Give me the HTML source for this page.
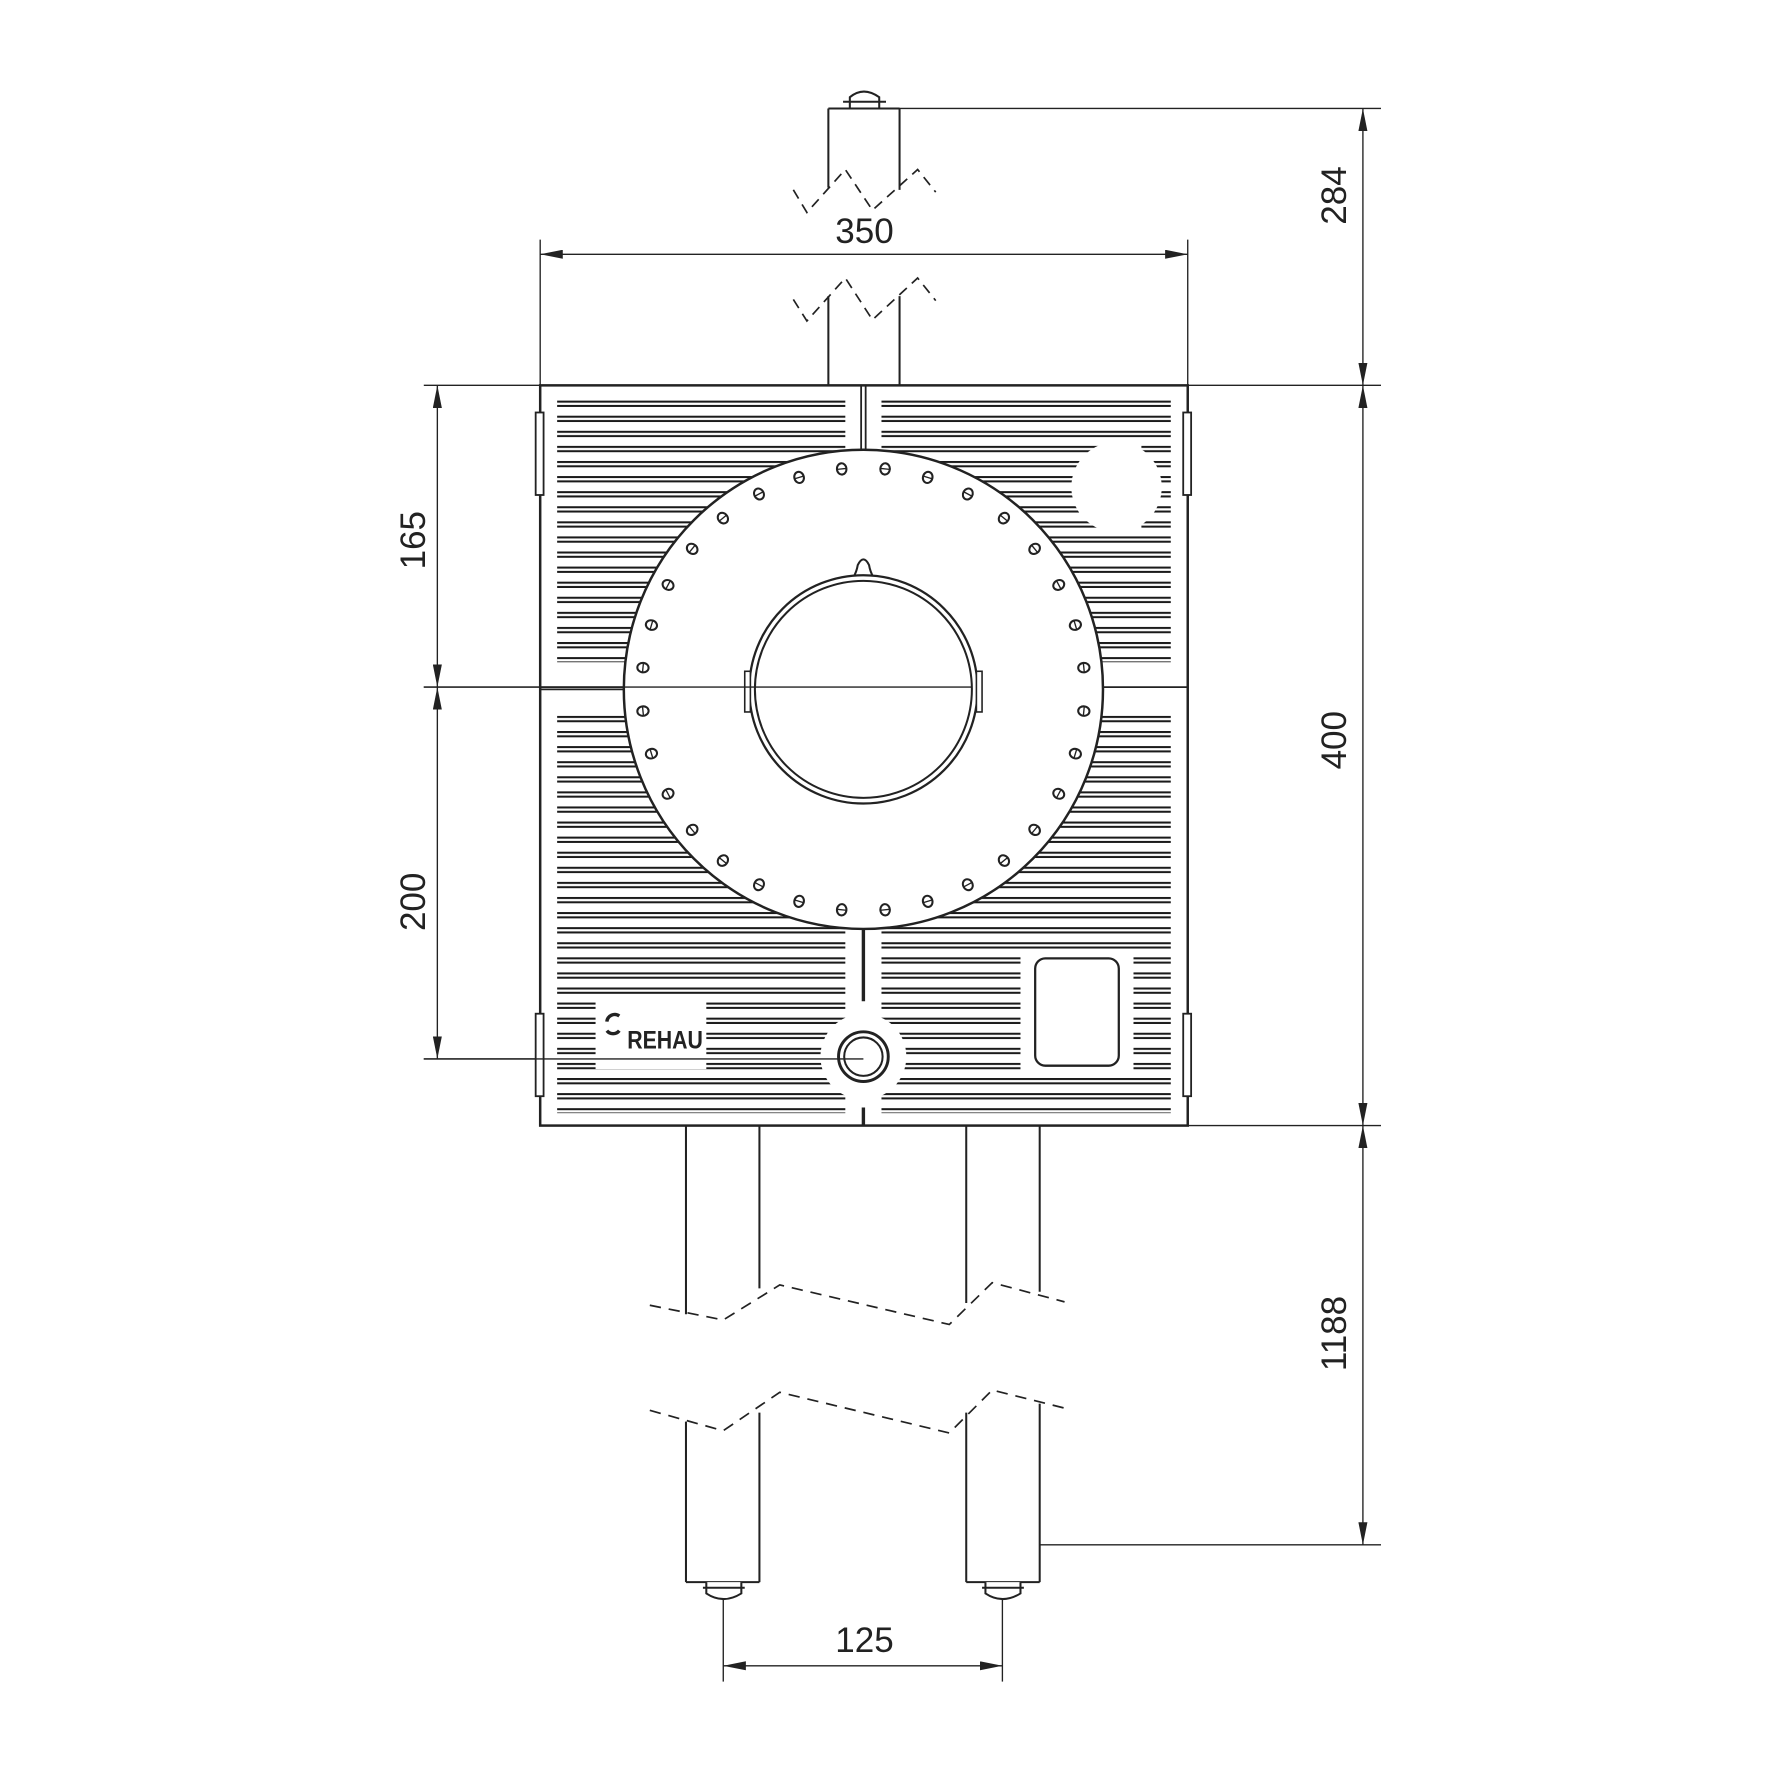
<!DOCTYPE html>
<html><head><meta charset="utf-8"><style>html,body{margin:0;padding:0;background:#fff}svg{display:block}</style></head>
<body>
<svg width="1772" height="1772" viewBox="0 0 1568 1568" xmlns="http://www.w3.org/2000/svg" font-family="Liberation Sans, sans-serif">
<defs>
<pattern id="pa" patternUnits="userSpaceOnUse" x="0" y="354.5" width="2000" height="13.35">
<rect x="0" y="0" width="2000" height="5.6" fill="#1a1a1a"/><rect x="0" y="1.8" width="2000" height="2" fill="#fff"/>
</pattern>
<pattern id="pb" patternUnits="userSpaceOnUse" x="0" y="633.5" width="2000" height="13.35">
<rect x="0" y="0" width="2000" height="5.6" fill="#1a1a1a"/><rect x="0" y="1.8" width="2000" height="2" fill="#fff"/>
</pattern>
<g id="h"><ellipse cx="764" cy="414" rx="4.2" ry="5" fill="#fff" stroke="#222" stroke-width="1.8"/><line x1="760" y1="414" x2="768" y2="414" stroke="#222" stroke-width="1.2"/></g>
<marker id="ar" viewBox="0 0 20 8" refX="20" refY="4" markerWidth="20" markerHeight="8" markerUnits="userSpaceOnUse" orient="auto-start-reverse"><path d="M0,0 L20,4 L0,8 Z" fill="#222"/></marker>
</defs>
<g stroke="#222" fill="none" stroke-width="1.2">
<line x1="790" y1="96" x2="1222" y2="96"/>
<line x1="1051" y1="341" x2="1222" y2="341"/>
<line x1="1051" y1="996" x2="1222" y2="996"/>
<line x1="920" y1="1367" x2="1222" y2="1367"/>
<line x1="478" y1="212" x2="478" y2="341"/>
<line x1="1051" y1="212" x2="1051" y2="341"/>
<line x1="375" y1="341" x2="478" y2="341"/>
<line x1="375" y1="608" x2="478" y2="608"/>
<line x1="375" y1="937" x2="478" y2="937"/>
<line x1="640" y1="1415" x2="640" y2="1488"/>
<line x1="887" y1="1415" x2="887" y2="1488"/>
<line x1="478" y1="225" x2="1051" y2="225" marker-start="url(#ar)" marker-end="url(#ar)"/>
<line x1="1206" y1="96" x2="1206" y2="341" marker-start="url(#ar)" marker-end="url(#ar)"/>
<line x1="1206" y1="341" x2="1206" y2="996" marker-start="url(#ar)" marker-end="url(#ar)"/>
<line x1="1206" y1="996" x2="1206" y2="1367" marker-start="url(#ar)" marker-end="url(#ar)"/>
<line x1="387" y1="341" x2="387" y2="608" marker-start="url(#ar)" marker-end="url(#ar)"/>
<line x1="387" y1="608" x2="387" y2="937" marker-start="url(#ar)" marker-end="url(#ar)"/>
<line x1="640" y1="1474" x2="887" y2="1474" marker-start="url(#ar)" marker-end="url(#ar)"/>
</g>
<g fill="#222" font-size="31">
<text x="765" y="215" text-anchor="middle">350</text>
<text x="765" y="1462" text-anchor="middle">125</text>
<text transform="translate(1191,173) rotate(-90)" text-anchor="middle">284</text>
<text transform="translate(1191,655) rotate(-90)" text-anchor="middle">400</text>
<text transform="translate(1191,1180) rotate(-90)" text-anchor="middle">1188</text>
<text transform="translate(376,478) rotate(-90)" text-anchor="middle">165</text>
<text transform="translate(376,798) rotate(-90)" text-anchor="middle">200</text>
</g>
<g stroke="#222" fill="none" stroke-width="1.8">
<path d="M752,96 L752,86 Q764,76 778,86 L778,96" fill="#fff"/>
<line x1="746" y1="90" x2="784" y2="90"/>
<line x1="733" y1="96" x2="796" y2="96"/>
<line x1="733" y1="96" x2="733" y2="166"/>
<line x1="796" y1="96" x2="796" y2="168"/>
<line x1="733" y1="262" x2="733" y2="341"/>
<line x1="796" y1="262" x2="796" y2="341"/>
<polyline points="702,168 714,188 748,150 772,186 812,150 828,170" stroke-dasharray="9,6" stroke-width="1.5"/>
<polyline points="702,265 714,284 748,246 772,283 812,246 828,266" stroke-dasharray="9,6" stroke-width="1.5"/>
<line x1="607" y1="996" x2="607" y2="1163"/>
<line x1="672" y1="996" x2="672" y2="1140"/>
<line x1="855" y1="996" x2="855" y2="1153"/>
<line x1="920" y1="996" x2="920" y2="1143"/>
<line x1="607" y1="1258" x2="607" y2="1400"/>
<line x1="672" y1="1250" x2="672" y2="1400"/>
<line x1="855" y1="1250" x2="855" y2="1400"/>
<line x1="920" y1="1242" x2="920" y2="1400"/>
<line x1="607" y1="1400" x2="672" y2="1400"/>
<line x1="855" y1="1400" x2="920" y2="1400"/>
<polyline points="575,1155 640,1168 690,1137 840,1172 878,1135 942,1152" stroke-dasharray="10,7" stroke-width="1.5"/>
<polyline points="575,1248 640,1266 690,1232 840,1268 878,1230 942,1246" stroke-dasharray="10,7" stroke-width="1.5"/>
<path d="M625,1400 L625,1410 Q640,1420 656,1410 L656,1400" fill="#fff"/>
<line x1="622" y1="1405" x2="659" y2="1405"/>
<path d="M872,1400 L872,1410 Q887,1420 903,1410 L903,1400" fill="#fff"/>
<line x1="869" y1="1405" x2="906" y2="1405"/>
</g>
<rect x="478" y="341" width="573" height="655" fill="#fff" stroke="#222" stroke-width="2.2"/>
<rect x="493" y="354" width="255" height="232" fill="url(#pa)"/>
<rect x="780" y="354" width="256" height="232" fill="url(#pa)"/>
<rect x="493" y="633" width="255" height="352" fill="url(#pb)"/>
<rect x="780" y="633" width="256" height="352" fill="url(#pb)"/>
<circle cx="988" cy="431" r="40" fill="#fff"/>
<rect x="1000" y="392" width="10" height="80" fill="#fff"/>
<circle cx="764" cy="935" r="38" fill="#fff"/>
<rect x="903" y="845" width="100" height="102" fill="#fff"/>
<rect x="527" y="882" width="98" height="64" fill="#fff"/>
<rect x="916" y="848" width="74" height="95" rx="9" fill="#fff" stroke="#222" stroke-width="2"/>
<g stroke="#222" stroke-width="1.6">
<line x1="762" y1="341" x2="762" y2="400"/><line x1="766" y1="341" x2="766" y2="400"/>
<line x1="764" y1="822" x2="764" y2="886" stroke-width="3"/>
<line x1="764" y1="980" x2="764" y2="996" stroke-width="3"/>
<line x1="478" y1="608" x2="1051" y2="608"/>
<line x1="478" y1="610" x2="560" y2="610"/>
</g>
<g fill="#fff" stroke="#222" stroke-width="1.6">
<rect x="474" y="365" width="7" height="73"/><rect x="474" y="897" width="7" height="73"/>
<rect x="1047" y="365" width="7" height="73"/><rect x="1047" y="897" width="7" height="73"/>
</g>
<circle cx="764" cy="610" r="212" fill="#fff" stroke="#222" stroke-width="2.2"/>
<path d="M755,511 Q758,506 759,500 Q764,490 769,500 Q770,506 773,511" fill="#fff" stroke="#222" stroke-width="1.8"/>
<circle cx="764" cy="610" r="101" fill="#fff" stroke="#222" stroke-width="2"/>
<circle cx="764" cy="610" r="96" fill="none" stroke="#222" stroke-width="1.8"/>
<rect x="659" y="594" width="5" height="36" fill="#fff" stroke="#222" stroke-width="1.4"/>
<rect x="864" y="594" width="5" height="36" fill="#fff" stroke="#222" stroke-width="1.4"/>
<line x1="375" y1="608" x2="860" y2="608" stroke="#222" stroke-width="1.2"/>
<g>
<use href="#h" transform="rotate(5.625 764 610)"/><use href="#h" transform="rotate(16.875 764 610)"/>
<use href="#h" transform="rotate(28.125 764 610)"/><use href="#h" transform="rotate(39.375 764 610)"/>
<use href="#h" transform="rotate(50.625 764 610)"/><use href="#h" transform="rotate(61.875 764 610)"/>
<use href="#h" transform="rotate(73.125 764 610)"/><use href="#h" transform="rotate(84.375 764 610)"/>
<use href="#h" transform="rotate(95.625 764 610)"/><use href="#h" transform="rotate(106.875 764 610)"/>
<use href="#h" transform="rotate(118.125 764 610)"/><use href="#h" transform="rotate(129.375 764 610)"/>
<use href="#h" transform="rotate(140.625 764 610)"/><use href="#h" transform="rotate(151.875 764 610)"/>
<use href="#h" transform="rotate(163.125 764 610)"/><use href="#h" transform="rotate(174.375 764 610)"/>
<use href="#h" transform="rotate(185.625 764 610)"/><use href="#h" transform="rotate(196.875 764 610)"/>
<use href="#h" transform="rotate(208.125 764 610)"/><use href="#h" transform="rotate(219.375 764 610)"/>
<use href="#h" transform="rotate(230.625 764 610)"/><use href="#h" transform="rotate(241.875 764 610)"/>
<use href="#h" transform="rotate(253.125 764 610)"/><use href="#h" transform="rotate(264.375 764 610)"/>
<use href="#h" transform="rotate(275.625 764 610)"/><use href="#h" transform="rotate(286.875 764 610)"/>
<use href="#h" transform="rotate(298.125 764 610)"/><use href="#h" transform="rotate(309.375 764 610)"/>
<use href="#h" transform="rotate(320.625 764 610)"/><use href="#h" transform="rotate(331.875 764 610)"/>
<use href="#h" transform="rotate(343.125 764 610)"/><use href="#h" transform="rotate(354.375 764 610)"/>
</g>
<circle cx="764" cy="935" r="22" fill="#fff" stroke="#222" stroke-width="2.6"/>
<circle cx="764" cy="935" r="17" fill="none" stroke="#222" stroke-width="1.8"/>
<line x1="375" y1="937" x2="764" y2="937" stroke="#222" stroke-width="1.2"/>
<path d="M537,904 A7,7 0 0 1 548,899 M548,912 A7,7 0 0 1 537,912" fill="none" stroke="#222" stroke-width="3"/>
<text x="555" y="928" font-size="22" font-weight="bold" fill="#222" textLength="67" lengthAdjust="spacingAndGlyphs">REHAU</text>
</svg>
</body></html>
